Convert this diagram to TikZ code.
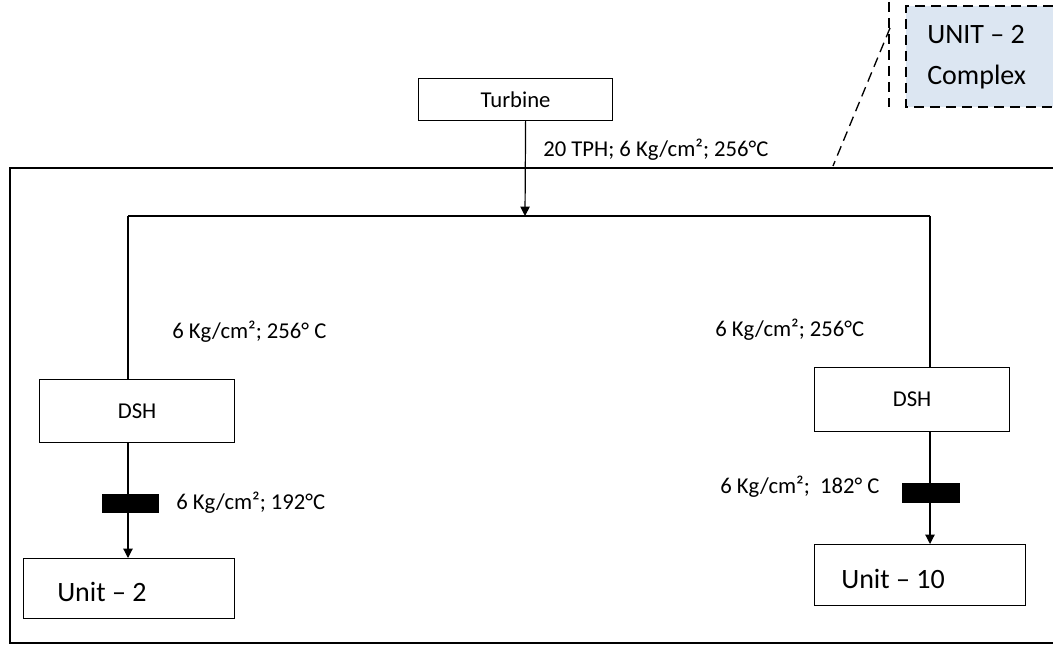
\documentclass[tikz,border=0pt]{standalone}
\usepackage{fontspec}
\setmainfont{Carlito}
\usetikzlibrary{arrows.meta}
\definecolor{calloutblue}{RGB}{220,230,242}
\tikzset{
  box/.style={draw, line width=0.9pt, anchor=north west, inner sep=0pt},
  small/.style={font=\fontsize{17}{20}\selectfont},
  big/.style={font=\fontsize{21}{25}\selectfont},
  lbl/.style={small, anchor=west, inner sep=0pt},
  valve/.style={fill=black, draw=none, inner sep=0pt},
  conn/.style={line width=0.9pt},
  arr/.style={line width=0.9pt, -{Triangle[length=7pt,width=7pt]}},
  dsh/.style={line width=1pt, dash pattern=on 7.5pt off 4.5pt}
}
\begin{document}
\begin{tikzpicture}[x=0.75pt,y=-0.75pt]
\useasboundingbox (0,0) rectangle (1053,645);
% outer frame (open on the right)
\draw[conn] (1053,168) -- (10,168) -- (10,643) -- (1053,643);
% callout
\fill[calloutblue] (906,6) rectangle (1053,107);
\draw[dsh] (1053,6) -- (906,6) -- (906,107) -- (1053,107);
\coordinate (cTop) at (889,2);
\coordinate (cMid) at (889,107);
\coordinate (cKnee) at (890,28);
\coordinate (cTip) at (833,166);
\draw[dsh] (cTop) -- (cMid);
\draw[dsh] (cKnee) -- (cTip);
\node[big, anchor=west, inner sep=0pt] (unitc) at (927,35) {UNIT – 2};
\node[big, anchor=west, inner sep=0pt] (complex) at (927,77) {Complex};
% turbine
\node[box, small, minimum width=194*0.75pt, minimum height=42*0.75pt] (turb) at (418,78) {Turbine};
\coordinate (j) at (525,216);
\draw[arr] ([xshift=7.5pt]turb.south) -- (j);
\node[lbl] (l20) at (543,150) {20 TPH; 6 Kg/cm²; 256°C};
% header line
\coordinate (hl) at (128,216);
\coordinate (hr) at (930,216);
\draw[conn] (hl) -- (hr);
% left branch
\node[box, small, minimum width=195*0.75pt, minimum height=63*0.75pt] (dshL) at (39,379) {DSH};
\node[box, minimum width=211*0.75pt, minimum height=60*0.75pt] (unit2) at (23,558) {};
\node[big, anchor=west, inner sep=0pt] (unit2t) at (57,592) {Unit – 2};
\draw[conn] (hl) -- (dshL.north -| hl);
\draw[arr] (dshL.south -| hl) -- (unit2.north -| hl);
\node[valve, minimum width=57*0.75pt, minimum height=19*0.75pt] (vL) at (130.5,503.5) {};
\node[lbl] (lL1) at (172,332) {6 Kg/cm²; 256° C};
\node[lbl] (lL2) at (176,503) {6 Kg/cm²; 192°C};
% right branch
\node[box, small, minimum width=195*0.75pt, minimum height=64*0.75pt] (dshR) at (814,367) {DSH};
\node[box, minimum width=211*0.75pt, minimum height=61*0.75pt] (unit10) at (814,544) {};
\node[big, anchor=west, inner sep=0pt] (unit10t) at (841,579) {Unit – 10};
\draw[conn] (hr) -- (dshR.north -| hr);
\draw[arr] (dshR.south -| hr) -- (unit10.north -| hr);
\node[valve, minimum width=58*0.75pt, minimum height=20*0.75pt] (vR) at (931,493) {};
\node[lbl] (lR1) at (715,330) {6 Kg/cm²; 256°C};
\node[lbl] (lR2) at (720,487) {6 Kg/cm²;\ \ 182° C};
\end{tikzpicture}
\end{document}
